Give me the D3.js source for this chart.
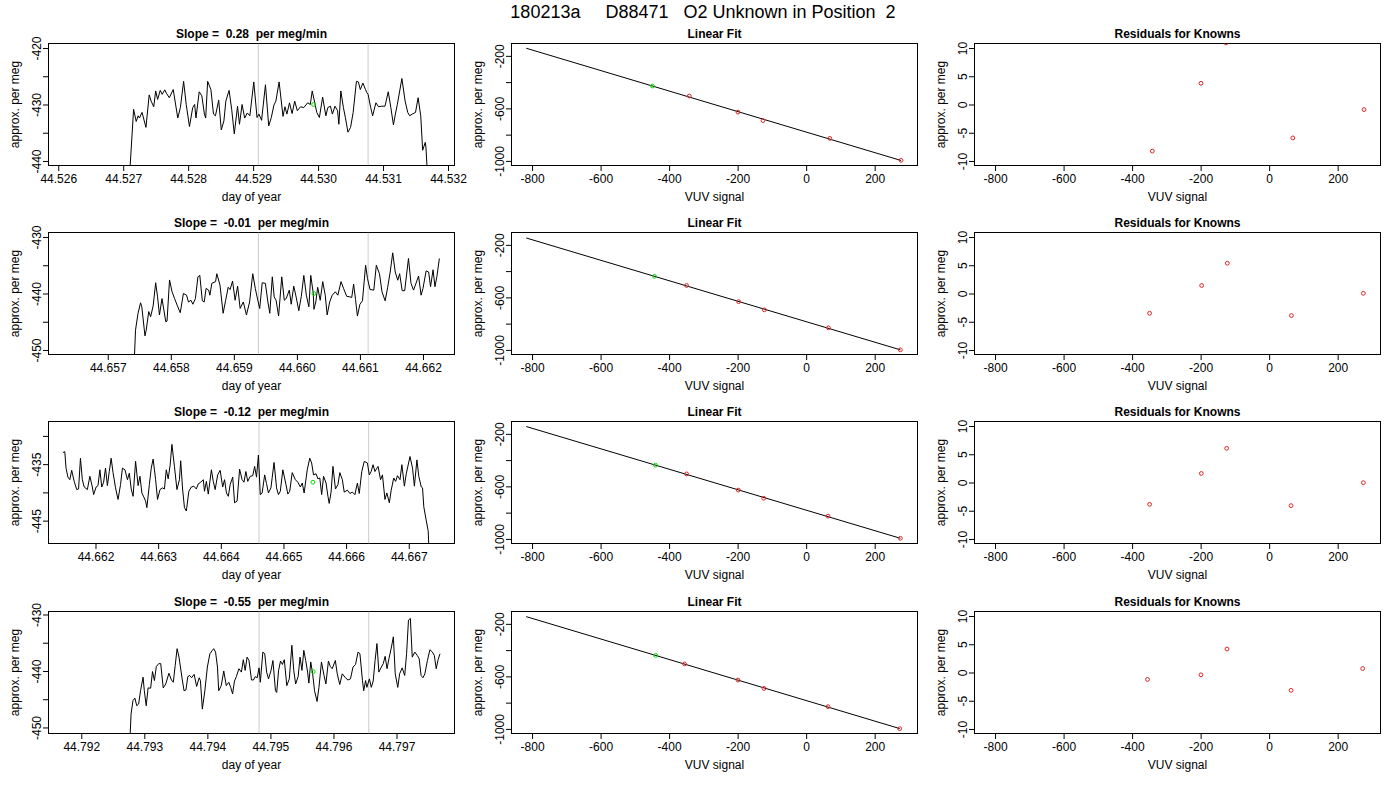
<!DOCTYPE html>
<html>
<head>
<meta charset="utf-8">
<script src="https://cdn.jsdelivr.net/npm/d3@7"></script>
<style>
    body { margin: 0; background: #fff; }
    svg { font-family: "Liberation Sans", Arial, Helvetica, sans-serif; }
</style>
</head>
<body>
<div id="chart"></div>
<script>
// titles
const mainTitle = "180213a     D88471   O2 Unknown in Position  2";
const slopeTitles = [
    "Slope =  0.28  per meg/min",
    "Slope =  -0.01  per meg/min",
    "Slope =  -0.12  per meg/min",
    "Slope =  -0.55  per meg/min"
];
const fitTitle = "Linear Fit";
const residTitle = "Residuals for Knowns";

// left column: time series per row
const dayDomains = [
    [44.52585, 44.53210],
    [44.65606, 44.66250],
    [44.66125, 44.66773],
    [44.79148, 44.79792]
];
const dayTicks = [
    [44.526, 44.527, 44.528, 44.529, 44.530, 44.531, 44.532],
    [44.657, 44.658, 44.659, 44.660, 44.661, 44.662],
    [44.662, 44.663, 44.664, 44.665, 44.666, 44.667],
    [44.792, 44.793, 44.794, 44.795, 44.796, 44.797]
];
const perMegDomains = [
    [-440.8, -419.2],
    [-450.8, -429.2],
    [-449.05, -427.45],
    [-451.07, -429.47]
];
const perMegTicks = [
    [-440, -435, -430, -425, -420],
    [-450, -445, -440, -435, -430],
    [-445, -440, -435, -430],
    [-450, -445, -440, -435, -430]
];
const perMegLabels = [
    [-440, -430, -420],
    [-450, -440, -430],
    [-445, -435],
    [-450, -440, -430]
];
const refLines = [
    [44.52908, 44.53077],
    [44.65939, 44.66113],
    [44.66461, 44.66636],
    [44.79482, 44.79656]
];
const unknownTime = [44.52993, 44.66027, 44.66547, 44.79568];
const unknownValue = [-430.0, -440.0, -438.2, -440.1];

const time1 = [44.52708, 44.52716, 44.52720, 44.52723, 44.52725, 44.52729, 44.52735, 44.52740, 44.52743, 44.52747,
    44.52750, 44.52753, 44.52757, 44.52760, 44.52764, 44.52767, 44.52771, 44.52777, 44.52784, 44.52788,
    44.52793, 44.52797, 44.52802, 44.52807, 44.52810, 44.52812, 44.52817, 44.52821, 44.52825, 44.52827,
    44.52830, 44.52835, 44.52839, 44.52842, 44.52847, 44.52851, 44.52855, 44.52858, 44.52863, 44.52867,
    44.52871, 44.52876, 44.52879, 44.52883, 44.52887, 44.52891, 44.52895, 44.52901, 44.52906, 44.52909,
    44.52913, 44.52919, 44.52924, 44.52928, 44.52932, 44.52935, 44.52940, 44.52946, 44.52949, 44.52952,
    44.52956, 44.52960, 44.52964, 44.52968, 44.52973, 44.52978, 44.52984, 44.52988, 44.52991, 44.52998,
    44.53002, 44.53007, 44.53012, 44.53015, 44.53019, 44.53022, 44.53026, 44.53030, 44.53032, 44.53035,
    44.53039, 44.53042, 44.53046, 44.53050, 44.53054, 44.53059, 44.53062, 44.53065, 44.53069, 44.53073,
    44.53075, 44.53077, 44.53081, 44.53084, 44.53089, 44.53093, 44.53098, 44.53103, 44.53108, 44.53112,
    44.53116, 44.53119, 44.53122, 44.53129, 44.53134, 44.53138, 44.53141, 44.53145, 44.53150, 44.53154,
    44.53158, 44.53161, 44.53165, 44.53166, 44.53168, 44.53170];
const value1 = [-446, -430.85, -433.0, -432.0, -432.4, -431.4, -434.05, -428.3, -429.4, -430.4,
    -427.6, -429.1, -427.5, -428.2, -427.4, -428.1, -428.8, -427.35, -432.4, -430.55,
    -425.9, -430.0, -433.9, -430.55, -430.0, -432.4, -427.75, -428.45, -431.7, -432.4,
    -425.9, -427.35, -431.7, -432.0, -429.25, -434.5, -432.9, -429.4, -427.5, -430.85,
    -435.2, -430.3, -433.5, -430.0, -432.4, -431.5, -432.0, -426.0, -432.3, -431.7,
    -432.8, -426.5, -433.8, -432.3, -430.1, -429.4, -426.0, -432.1, -430.4, -431.7,
    -429.7, -431.6, -429.4, -431.1, -430.4, -430.55, -429.7, -430.0, -427.6, -431.4,
    -432.3, -428.7, -432.0, -430.55, -430.3, -431.7, -430.3, -431.1, -433.5, -427.6,
    -430.55, -432.3, -434.9, -434.05, -431.4, -425.9, -426.0, -427.35, -426.2, -427.35,
    -427.9, -428.2, -430.55, -432.0, -429.7, -430.4, -430.3, -430.3, -427.75, -430.55,
    -433.6, -431.7, -430.0, -425.4, -429.4, -431.4, -432.0, -431.7, -431.4, -428.8,
    -432.0, -438.1, -436.7, -437.55, -441.6, -446];

const time2 = [44.65741, 44.65744, 44.65748, 44.65752, 44.65754, 44.65759, 44.65761, 44.65765, 44.65768, 44.65772,
    44.65776, 44.65779, 44.65782, 44.65786, 44.65789, 44.65792, 44.65794, 44.65798, 44.65802, 44.65806,
    44.65810, 44.65815, 44.65820, 44.65825, 44.65828, 44.65832, 44.65835, 44.65839, 44.65843, 44.65846,
    44.65850, 44.65853, 44.65856, 44.65860, 44.65862, 44.65865, 44.65871, 44.65873, 44.65878, 44.65883,
    44.65887, 44.65891, 44.65894, 44.65898, 44.65902, 44.65906, 44.65910, 44.65915, 44.65920, 44.65925,
    44.65930, 44.65934, 44.65938, 44.65941, 44.65945, 44.65950, 44.65954, 44.65957, 44.65961, 44.65964,
    44.65967, 44.65971, 44.65976, 44.65980, 44.65983, 44.65988, 44.65991, 44.65995, 44.65999, 44.66003,
    44.66007, 44.66011, 44.66015, 44.66019, 44.66022, 44.66026, 44.66027, 44.66030, 44.66033, 44.66037,
    44.66041, 44.66045, 44.66048, 44.66052, 44.66056, 44.66061, 44.66065, 44.66070, 44.66074, 44.66079,
    44.66084, 44.66087, 44.66090, 44.66093, 44.66096, 44.66100, 44.66104, 44.66109, 44.66112, 44.66116,
    44.66122, 44.66126, 44.66131, 44.66135, 44.66140, 44.66144, 44.66148, 44.66152, 44.66156, 44.66160,
    44.66163, 44.66167, 44.66171, 44.66177, 44.66181, 44.66185, 44.66188, 44.66193, 44.66197, 44.66200,
    44.66205, 44.66209, 44.66212, 44.66216, 44.66219, 44.66222, 44.66226];
const value2 = [-455, -446.5, -443.5, -441.65, -442.35, -447.5, -446.5, -443.2, -444.1, -442.2,
    -438.1, -440.6, -443.8, -440.9, -442.9, -445.0, -444.9, -437.6, -439.7, -440.9,
    -442.05, -443.4, -440.0, -440.3, -441.5, -441.2, -441.9, -440.9, -437.05, -436.8,
    -441.3, -441.5, -439.1, -439.4, -440.3, -438.2, -437.9, -436.5, -438.5, -443.5,
    -441.2, -438.9, -439.3, -437.8, -441.2, -438.7, -442.65, -441.5, -443.8, -441.5,
    -436.5, -439.1, -441.2, -442.65, -438.1, -438.2, -441.5, -443.5, -437.05, -440.6,
    -441.2, -444.0, -437.05, -441.2, -440.9, -439.4, -441.9, -438.7, -440.7, -443.05,
    -440.5, -436.8, -440.3, -442.35, -436.8, -440.0, -442.8, -441.5, -438.9, -441.2,
    -437.9, -440.3, -443.8, -441.5, -440.3, -439.7, -440.3, -437.9, -439.1, -440.5,
    -440.6, -440.7, -438.35, -441.05, -444.0, -441.9, -441.3, -435.0, -437.35, -439.3,
    -439.4, -435.0, -436.5, -439.7, -441.3, -438.9, -436.2, -432.8, -436.2, -437.65,
    -436.5, -439.5, -439.5, -433.8, -438.2, -439.4, -438.5, -436.9, -440.3, -439.1,
    -436.0, -436.2, -438.8, -435.8, -438.8, -437.05, -433.8];

const time3 = [44.66148, 44.66151, 44.66153, 44.66156, 44.66159, 44.66162, 44.66166, 44.66170, 44.66173, 44.66176,
    44.66179, 44.66182, 44.66187, 44.66191, 44.66195, 44.66197, 44.66201, 44.66204, 44.66207, 44.66210,
    44.66213, 44.66216, 44.66219, 44.66222, 44.66225, 44.66228, 44.66232, 44.66236, 44.66240, 44.66243,
    44.66247, 44.66251, 44.66254, 44.66257, 44.66260, 44.66264, 44.66268, 44.66271, 44.66274, 44.66277,
    44.66280, 44.66282, 44.66286, 44.66289, 44.66292, 44.66296, 44.66299, 44.66303, 44.66307, 44.66310,
    44.66313, 44.66316, 44.66319, 44.66322, 44.66326, 44.66330, 44.66334, 44.66336, 44.66339, 44.66342,
    44.66345, 44.66349, 44.66353, 44.66357, 44.66361, 44.66364, 44.66368, 44.66372, 44.66374, 44.66377,
    44.66380, 44.66385, 44.66388, 44.66391, 44.66395, 44.66399, 44.66403, 44.66406, 44.66409, 44.66412,
    44.66415, 44.66419, 44.66422, 44.66426, 44.66430, 44.66434, 44.66437, 44.66440, 44.66443, 44.66447,
    44.66451, 44.66454, 44.66457, 44.66460, 44.66463, 44.66466, 44.66470, 44.66473, 44.66476, 44.66480,
    44.66485, 44.66489, 44.66492, 44.66495, 44.66499, 44.66504, 44.66507, 44.66510, 44.66514, 44.66519,
    44.66523, 44.66527, 44.66530, 44.66533, 44.66538, 44.66542, 44.66545, 44.66548, 44.66552, 44.66555,
    44.66558, 44.66561, 44.66564, 44.66568, 44.66571, 44.66573, 44.66576, 44.66579, 44.66583, 44.66587,
    44.66590, 44.66594, 44.66597, 44.66602, 44.66606, 44.66610, 44.66614, 44.66618, 44.66621, 44.66625,
    44.66629, 44.66634, 44.66637, 44.66640, 44.66643, 44.66646, 44.66651, 44.66655, 44.66658, 44.66662,
    44.66665, 44.66669, 44.66672, 44.66676, 44.66679, 44.66682, 44.66686, 44.66689, 44.66693, 44.66696,
    44.66702, 44.66706, 44.66709, 44.66713, 44.66716, 44.66720, 44.66722, 44.66724, 44.66728, 44.66731,
    44.66733];
const value3 = [-432.95, -432.8, -435.7, -437.3, -437.75, -436.1, -438.05, -439.5, -439.4, -433.95,
    -437.75, -439.05, -439.5, -437.15, -439.05, -440.4, -439.05, -438.8, -436.0, -439.05,
    -438.2, -435.7, -438.8, -436.3, -433.95, -436.5, -439.2, -441.25, -438.6, -435.7,
    -436.0, -437.75, -436.6, -439.4, -440.7, -434.5, -438.8, -437.15, -440.1, -440.8,
    -441.55, -442.7, -438.6, -435.7, -434.1, -437.75, -441.25, -439.5, -439.2, -439.4,
    -436.0, -437.6, -435.3, -431.5, -435.4, -439.5, -437.75, -434.4, -439.4, -442.7,
    -443.3, -439.8, -439.05, -438.9, -439.4, -438.5, -438.2, -437.75, -439.8, -438.05,
    -440.3, -436.0, -438.05, -439.5, -436.9, -436.1, -439.05, -437.75, -440.1, -440.7,
    -438.6, -437.3, -441.85, -441.55, -435.9, -437.75, -438.2, -436.3, -438.05, -437.15,
    -437.05, -435.4, -437.3, -433.4, -440.4, -440.1, -436.9, -438.45, -440.1, -439.2,
    -434.7, -439.2, -440.4, -439.8, -436.0, -438.6, -440.3, -439.8, -436.5, -437.75,
    -438.2, -439.05, -438.35, -440.1, -436.0, -433.95, -434.8, -436.9, -436.7, -437.6,
    -437.45, -440.4, -437.15, -438.35, -440.7, -441.95, -439.95, -435.4, -439.4, -438.6,
    -436.5, -437.75, -439.95, -439.6, -440.2, -439.95, -440.4, -438.35, -440.2, -436.3,
    -434.5, -434.8, -436.9, -436.3, -435.1, -436.3, -435.4, -437.75, -436.9, -441.25,
    -440.1, -441.85, -439.6, -437.45, -438.05, -437.05, -437.75, -435.1, -438.9, -436.7,
    -433.65, -435.7, -438.9, -434.25, -437.15, -439.05, -439.2, -442.55, -445.05, -446.8,
    -452];

const time4 = [44.79276, 44.79279, 44.79282, 44.79285, 44.79288, 44.79291, 44.79294, 44.79298, 44.79300, 44.79303,
    44.79306, 44.79310, 44.79313, 44.79316, 44.79319, 44.79323, 44.79326, 44.79330, 44.79334, 44.79339,
    44.79343, 44.79346, 44.79349, 44.79352, 44.79355, 44.79360, 44.79363, 44.79366, 44.79369, 44.79372,
    44.79375, 44.79379, 44.79383, 44.79387, 44.79389, 44.79392, 44.79396, 44.79400, 44.79404, 44.79408,
    44.79410, 44.79413, 44.79416, 44.79418, 44.79422, 44.79426, 44.79430, 44.79434, 44.79437, 44.79440,
    44.79443, 44.79446, 44.79450, 44.79454, 44.79457, 44.79460, 44.79463, 44.79466, 44.79470, 44.79473,
    44.79476, 44.79479, 44.79482, 44.79484, 44.79488, 44.79491, 44.79494, 44.79497, 44.79501, 44.79504,
    44.79508, 44.79510, 44.79513, 44.79516, 44.79519, 44.79522, 44.79526, 44.79530, 44.79534, 44.79537,
    44.79540, 44.79544, 44.79547, 44.79550, 44.79553, 44.79556, 44.79559, 44.79561, 44.79564, 44.79567,
    44.79570, 44.79574, 44.79577, 44.79581, 44.79585, 44.79588, 44.79592, 44.79595, 44.79598, 44.79603,
    44.79606, 44.79610, 44.79614, 44.79619, 44.79623, 44.79627, 44.79631, 44.79635, 44.79639, 44.79642,
    44.79646, 44.79648, 44.79651, 44.79653, 44.79657, 44.79660, 44.79663, 44.79666, 44.79669, 44.79672,
    44.79676, 44.79679, 44.79682, 44.79685, 44.79688, 44.79692, 44.79695, 44.79698, 44.79702, 44.79705,
    44.79709, 44.79713, 44.79716, 44.79719, 44.79722, 44.79725, 44.79729, 44.79733, 44.79736, 44.79739,
    44.79742, 44.79745, 44.79749, 44.79753, 44.79757, 44.79760, 44.79763, 44.79766, 44.79769];
const value4 = [-455, -447.6, -445.25, -444.8, -446.15, -445.85, -443.5, -441.1, -443.5, -446.15,
    -443.0, -443.05, -440.1, -441.7, -439.2, -438.7, -438.7, -443.0, -442.3, -440.4,
    -441.6, -442.0, -439.0, -436.05, -437.55, -441.4, -443.5, -443.35, -441.0, -440.8,
    -441.2, -440.6, -442.75, -441.2, -441.7, -446.75, -443.5, -439.3, -436.95, -436.35,
    -436.05, -436.65, -439.3, -443.5, -442.6, -440.0, -442.6, -442.0, -442.9, -444.05,
    -441.8, -441.0, -439.6, -440.2, -438.0, -439.9, -437.55, -438.15, -441.6, -441.6,
    -441.0, -441.2, -439.45, -442.0, -436.65, -436.95, -440.2, -441.4, -439.9, -438.15,
    -443.5, -443.8, -439.9, -438.25, -438.85, -438.0, -442.6, -441.4, -435.45, -439.9,
    -442.3, -441.0, -437.55, -439.9, -436.35, -438.15, -440.2, -442.15, -438.4, -440.5,
    -443.5, -445.4, -442.9, -438.4, -440.8, -442.3, -438.25, -439.2, -439.6, -438.15,
    -440.5, -442.4, -440.5, -441.2, -441.6, -441.4, -439.3, -438.85, -436.65, -436.95,
    -441.7, -443.5, -441.7, -442.9, -441.4, -442.9, -441.8, -438.15, -435.15, -440.2,
    -439.3, -438.7, -437.4, -439.6, -437.85, -435.75, -433.95, -440.5, -442.9, -440.5,
    -439.45, -440.8, -436.95, -431.0, -430.7, -437.55, -436.65, -437.25, -437.85, -440.8,
    -441.2, -440.5, -438.15, -436.25, -436.65, -437.25, -439.6, -438.0, -436.95];

const traceTimes = [time1, time2, time3, time4];
const traceValues = [value1, value2, value3, value4];

// middle and right columns: calibration against knowns
const vuvDomain = [-860, 325];
const vuvTicks = [-800, -600, -400, -200, 0, 200];
const fitDomain = [-1035, -106];
const fitTicks = [-1000, -800, -600, -400, -200];
const fitLabels = [-1000, -600, -200];
const residDomain = [-10.8, 10.8];
const residTicks = [-10, -5, 0, 5, 10];

const fitIntercept = [-780.4, -785.0, -781.0, -784.0];
const fitSlope = [-0.7813, -0.780, -0.7794, -0.782];
const fitStart = -817;
const unknownSignal = [-448.5, -442.7, -439.8, -439.0];

const knownSignal = [
    [-341, -199, -126, 69, 277],
    [-349, -197, -122, 65, 275],
    [-349, -198, -124, 64, 275],
    [-355, -199, -123, 64, 273]
];
const knownValue = [
    [-505.8, -628.7, -692.9, -828.4, -995.9],
    [-509.3, -632.7, -695.2, -831.8, -999.5],
    [-505.1, -628.3, -690.4, -826.8, -995.3],
    [-505.2, -628.0, -692.0, -830.8, -998.2]
];
const knownResid = [
    [-8.25, 3.76, 10.9, -5.92, -0.9],
    [-3.5, 1.42, 5.36, -3.9, 0.03],
    [-3.87, 1.6, 6.05, -4.1, -0.03],
    [-1.23, -0.41, 4.15, -3.16, 0.7]
];

// layout
const colLeft = [48, 511, 974];
const plotW = 406, plotH = 122;
const rowTop = [43, 232, 421, 611];
const redPt = "#e02424", greenPt = "#00dd00";

let svg = d3.select("#chart").
append("svg").
attr("width", 1400).
attr("height", 800).
style("background", "#fff");

svg.append("text").
attr("x", 703).
attr("y", 18).
attr("text-anchor", "middle").
attr("font-size", 18).
style("white-space", "pre").
text(mainTitle);

function drawFrame(id, left, top, xScale, yScale, xTicks, xFmt, yTicks, yLabels, title, xLabel) {
    let g = svg.append("g").
    attr("transform", "translate(" + (left + 0.5) + "," + (top + 0.5) + ")");

    g.append("clipPath").
    attr("id", id).
    append("rect").
    attr("width", plotW).
    attr("height", plotH);

    let xAxis = g.append("g").
    attr("transform", "translate(0," + plotH + ")").
    call(d3.axisBottom(xScale).
    tickValues(xTicks).
    tickFormat(xFmt).
    tickSize(5.5).
    tickSizeOuter(0).
    tickPadding(3.5));
    xAxis.select(".domain").remove();

    let yAxis = g.append("g").
    call(d3.axisLeft(yScale).
    tickValues(yTicks).
    tickFormat(d => yLabels.includes(d) ? String(d) : "").
    tickSize(5.5).
    tickSizeOuter(0));
    yAxis.select(".domain").remove();
    yAxis.selectAll("text").
    attr("x", null).
    attr("dy", null).
    attr("text-anchor", "middle").
    attr("transform", "translate(-8,0) rotate(-90)");

    g.selectAll(".tick text").
    attr("font-size", 12).
    attr("fill", "#000");
    g.selectAll(".tick line").
    attr("stroke", "#000");
    g.selectAll("g").
    attr("font-family", null).
    attr("font-size", null);

    g.append("rect").
    attr("width", plotW).
    attr("height", plotH).
    attr("fill", "none").
    attr("stroke", "#000").
    attr("stroke-width", 1);

    g.append("text").
    attr("x", plotW / 2).
    attr("y", -5.5).
    attr("text-anchor", "middle").
    attr("font-size", 12).
    attr("font-weight", "bold").
    style("white-space", "pre").
    text(title);

    g.append("text").
    attr("x", plotW / 2).
    attr("y", plotH + 35).
    attr("text-anchor", "middle").
    attr("font-size", 12).
    text(xLabel);

    g.append("text").
    attr("transform", "translate(-30," + plotH / 2 + ") rotate(-90)").
    attr("text-anchor", "middle").
    attr("font-size", 12).
    text("approx. per meg");

    return g.append("g").attr("clip-path", "url(#" + id + ")");
}

for (let r = 0; r < 4; r++) {
    // time series
    let xDay = d3.scaleLinear().domain(dayDomains[r]).range([0, plotW]);
    let yMeg = d3.scaleLinear().domain(perMegDomains[r]).range([plotH, 0]);
    let p1 = drawFrame("clipA" + r, colLeft[0], rowTop[r], xDay, yMeg,
    dayTicks[r], d => d.toFixed(3), perMegTicks[r], perMegLabels[r],
    slopeTitles[r], "day of year");

    p1.selectAll(".ref").
    data(refLines[r]).
    enter().
    append("line").
    attr("x1", d => xDay(d)).
    attr("x2", d => xDay(d)).
    attr("y1", 0).
    attr("y2", plotH).
    attr("stroke", "#cccccc").
    attr("stroke-width", 1);

    p1.append("path").
    datum(d3.zip(traceTimes[r], traceValues[r])).
    attr("fill", "none").
    attr("stroke", "#000").
    attr("stroke-width", 1).
    attr("d", d3.line().x(d => xDay(d[0])).y(d => yMeg(d[1])));

    p1.append("circle").
    attr("cx", xDay(unknownTime[r])).
    attr("cy", yMeg(unknownValue[r])).
    attr("r", 1.9).
    attr("fill", "none").
    attr("stroke", greenPt).
    attr("stroke-width", 1);

    // linear fit
    let xVuv = d3.scaleLinear().domain(vuvDomain).range([0, plotW]);
    let yFit = d3.scaleLinear().domain(fitDomain).range([plotH, 0]);
    let p2 = drawFrame("clipB" + r, colLeft[1], rowTop[r], xVuv, yFit,
    vuvTicks, d => String(d), fitTicks, fitLabels, fitTitle, "VUV signal");

    let fitEnd = d3.max(knownSignal[r]);
    let fitLine = [fitStart, fitEnd].map(x => [x, fitIntercept[r] + fitSlope[r] * x]);
    p2.append("path").
    datum(fitLine).
    attr("fill", "none").
    attr("stroke", "#000").
    attr("stroke-width", 1).
    attr("d", d3.line().x(d => xVuv(d[0])).y(d => yFit(d[1])));

    p2.selectAll(".known").
    data(d3.zip(knownSignal[r], knownValue[r])).
    enter().
    append("circle").
    attr("cx", d => xVuv(d[0])).
    attr("cy", d => yFit(d[1])).
    attr("r", 1.9).
    attr("fill", "none").
    attr("stroke", redPt).
    attr("stroke-width", 1);

    p2.append("circle").
    attr("cx", xVuv(unknownSignal[r])).
    attr("cy", yFit(unknownValue[r])).
    attr("r", 1.9).
    attr("fill", "none").
    attr("stroke", greenPt).
    attr("stroke-width", 1);

    // residuals
    let yRes = d3.scaleLinear().domain(residDomain).range([plotH, 0]);
    let p3 = drawFrame("clipC" + r, colLeft[2], rowTop[r], xVuv, yRes,
    vuvTicks, d => String(d), residTicks, residTicks, residTitle, "VUV signal");

    p3.selectAll(".resid").
    data(d3.zip(knownSignal[r], knownResid[r])).
    enter().
    append("circle").
    attr("cx", d => xVuv(d[0])).
    attr("cy", d => yRes(d[1])).
    attr("r", 1.9).
    attr("fill", "none").
    attr("stroke", redPt).
    attr("stroke-width", 1);
}
</script>
</body>
</html>
